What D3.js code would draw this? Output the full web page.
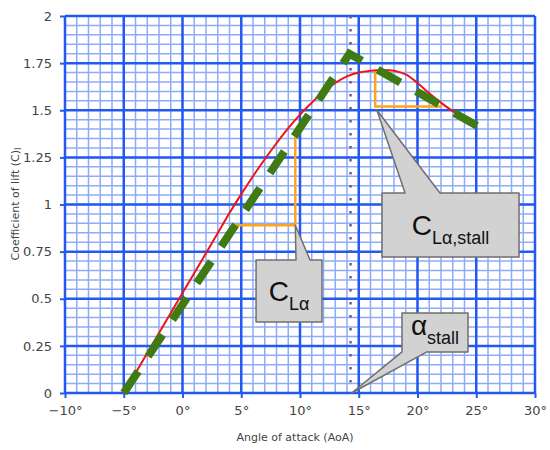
<!DOCTYPE html>
<html>
<head>
<meta charset="utf-8">
<script src="https://cdn.jsdelivr.net/npm/d3@7"></script>
<style>
  body { margin: 0; background: #fff; }
  svg text { font-family: "DejaVu Sans", sans-serif; }
</style>
</head>
<body>
<div id="chart"></div>
<script>
// lift curve
const aoa = [-5, -2.5, 0, 2.5, 4, 5, 6, 7, 8, 9, 10, 11, 12, 13, 14, 15, 16, 17, 18, 19, 20, 21, 22, 23, 24, 25.1];
const cl = [0, 0.265, 0.53, 0.795, 0.955, 1.055, 1.15, 1.24, 1.325, 1.405, 1.477, 1.54, 1.598, 1.645, 1.68, 1.70, 1.71, 1.714, 1.71, 1.69, 1.645, 1.59, 1.54, 1.495, 1.46, 1.43];

// straight-line approximation (green dashes)
const fitAoa = [-5, 14.2, 25.3];
const fitCl = [0, 1.8, 1.41];

// slope triangles (orange)
const slope1Aoa = [4.5, 9.6, 9.6];
const slope1Cl = [0.89, 0.89, 1.36];
const slope2Aoa = [16.4, 16.4, 22.1];
const slope2Cl = [1.71, 1.52, 1.52];

const stallAoa = 14.3;

const xTicks = [-10, -5, 0, 5, 10, 15, 20, 25, 30];
const yTicks = [0, 0.25, 0.5, 0.75, 1, 1.25, 1.5, 1.75, 2];

// callouts: box [a0, a1, cl0, cl1], pointer base [a, a], pointer tip [a, cl]
const callouts = [
  { main: "C", sub: "Lα", box: [6.26, 11.87, 0.706, 0.377], base: [9.66, 10.85], tip: [9.6, 0.89], side: "top" },
  { main: "C", sub: "Lα,stall", box: [16.98, 28.64, 1.061, 0.722], base: [18.94, 21.91], tip: [16.55, 1.5], side: "top" },
  { main: "α", sub: "stall", box: [18.68, 24.3, 0.424, 0.218], base: [18.68, 20.8], tip: [14.4, 0], side: "bottom" }
];

var width = 550, height = 450;
var svg = d3.select("#chart").append("svg")
  .attr("width", width)
  .attr("height", height);

const x = d3.scaleLinear().domain([-10, 30]).range([65, 535]);
const y = d3.scaleLinear().domain([0, 2]).range([393, 16]);

// minor grid
var grid = svg.append("g");
grid.selectAll("line.vminor")
  .data(d3.range(-10, 31, 1))
  .enter().append("line")
  .attr("x1", d => x(d)).attr("x2", d => x(d))
  .attr("y1", y(0)).attr("y2", y(2))
  .attr("stroke", "#8eabf7").attr("stroke-width", 1.5);
grid.selectAll("line.hminor")
  .data(d3.range(0, 2.001, 0.05))
  .enter().append("line")
  .attr("y1", d => y(d)).attr("y2", d => y(d))
  .attr("x1", x(-10)).attr("x2", x(30))
  .attr("stroke", "#8eabf7").attr("stroke-width", 1.5);

// major grid
grid.selectAll("line.vmajor")
  .data(xTicks)
  .enter().append("line")
  .attr("x1", d => x(d)).attr("x2", d => x(d))
  .attr("y1", y(0)).attr("y2", y(2))
  .attr("stroke", "#2358f2").attr("stroke-width", 2.5);
grid.selectAll("line.hmajor")
  .data(yTicks)
  .enter().append("line")
  .attr("y1", d => y(d)).attr("y2", d => y(d))
  .attr("x1", x(-10)).attr("x2", x(30))
  .attr("stroke", "#2358f2").attr("stroke-width", 2.5);

// axes
var fmtX = d => (d < 0 ? "\u2212" + Math.abs(d) : d) + "°";
var xAxis = svg.append("g")
  .attr("transform", `translate(0,${y(0)})`)
  .call(d3.axisBottom(x).tickValues(xTicks).tickFormat(fmtX).tickSize(5).tickPadding(8));
var yAxis = svg.append("g")
  .attr("transform", `translate(${x(-10)},0)`)
  .call(d3.axisLeft(y).tickValues(yTicks).tickFormat(d => d3.format("")(d)).tickSize(5).tickPadding(8));
[xAxis, yAxis].forEach(g => {
  g.select(".domain").remove();
  g.selectAll(".tick line").attr("stroke", "#2358f2").attr("stroke-width", 2);
  g.selectAll(".tick text").attr("fill", "#444").style("font-size", "13px");
});

svg.append("text")
  .attr("x", 295).attr("y", 441)
  .attr("text-anchor", "middle")
  .attr("fill", "#444")
  .style("font-size", "11px")
  .text("Angle of attack (AoA)");

var yl = svg.append("text")
  .attr("transform", "translate(19,204) rotate(-90)")
  .attr("text-anchor", "middle")
  .attr("fill", "#444")
  .style("font-size", "11px");
yl.append("tspan").text("Coefficient of lift (C)");
yl.append("tspan").attr("dy", 2).style("font-size", "9px").text("l");

// stall angle dotted line
svg.append("line")
  .attr("x1", x(stallAoa)).attr("x2", x(stallAoa))
  .attr("y1", y(2)).attr("y2", y(0))
  .attr("stroke", "#6b5a8e")
  .attr("stroke-width", 2.5)
  .attr("stroke-dasharray", "2.5,10.5");

// orange slope triangles
var orangeLine = d3.line().x(d => x(d[0])).y(d => y(d[1]));
[[slope1Aoa, slope1Cl], [slope2Aoa, slope2Cl]].forEach(s => {
  svg.append("path")
    .attr("d", orangeLine(d3.zip(s[0], s[1])))
    .attr("fill", "none")
    .attr("stroke", "#ffa41f")
    .attr("stroke-width", 2.5);
});

// lift curve
svg.append("path")
  .attr("d", d3.line().x(d => x(d[0])).y(d => y(d[1])).curve(d3.curveCatmullRom.alpha(0.5))(d3.zip(aoa, cl)))
  .attr("fill", "none")
  .attr("stroke", "#f01414")
  .attr("stroke-width", 2);

// linear approximation
svg.append("path")
  .attr("d", d3.line().x(d => x(d[0])).y(d => y(d[1]))(d3.zip(fitAoa, fitCl)))
  .attr("fill", "none")
  .attr("stroke", "#3f7a12")
  .attr("stroke-width", 8)
  .attr("stroke-dasharray", "26,18");

// callout boxes
callouts.forEach(c => {
  var x0 = x(c.box[0]), x1 = x(c.box[1]), y0 = y(c.box[2]), y1 = y(c.box[3]);
  var b0 = x(c.base[0]), b1 = x(c.base[1]);
  var tx = x(c.tip[0]), ty = y(c.tip[1]);
  var p = d3.path();
  if (c.side == "top") {
    p.moveTo(x0, y0); p.lineTo(b0, y0); p.lineTo(tx, ty); p.lineTo(b1, y0);
    p.lineTo(x1, y0); p.lineTo(x1, y1); p.lineTo(x0, y1); p.closePath();
  } else {
    p.moveTo(x0, y0); p.lineTo(x1, y0); p.lineTo(x1, y1); p.lineTo(b1, y1);
    p.lineTo(tx, ty); p.lineTo(b0, y1); p.closePath();
  }
  svg.append("path")
    .attr("d", p.toString())
    .attr("fill", "#d2d2d2")
    .attr("stroke", "#6f6f6f")
    .attr("stroke-width", 1.5)
    .attr("stroke-linejoin", "round");

  var t = svg.append("text")
    .attr("x", (x0 + x1) / 2)
    .attr("y", c.main == "α" ? y0 + 22 : (y0 + y1) / 2 + 10)
    .attr("text-anchor", "middle")
    .attr("fill", "#111")
    .style("font-family", "'Liberation Sans', Arial, sans-serif")
    .style("font-size", "28px");
  t.append("tspan").text(c.main);
  t.append("tspan").attr("dy", 9).style("font-size", "18px").text(c.sub);
});
</script>
</body>
</html>
